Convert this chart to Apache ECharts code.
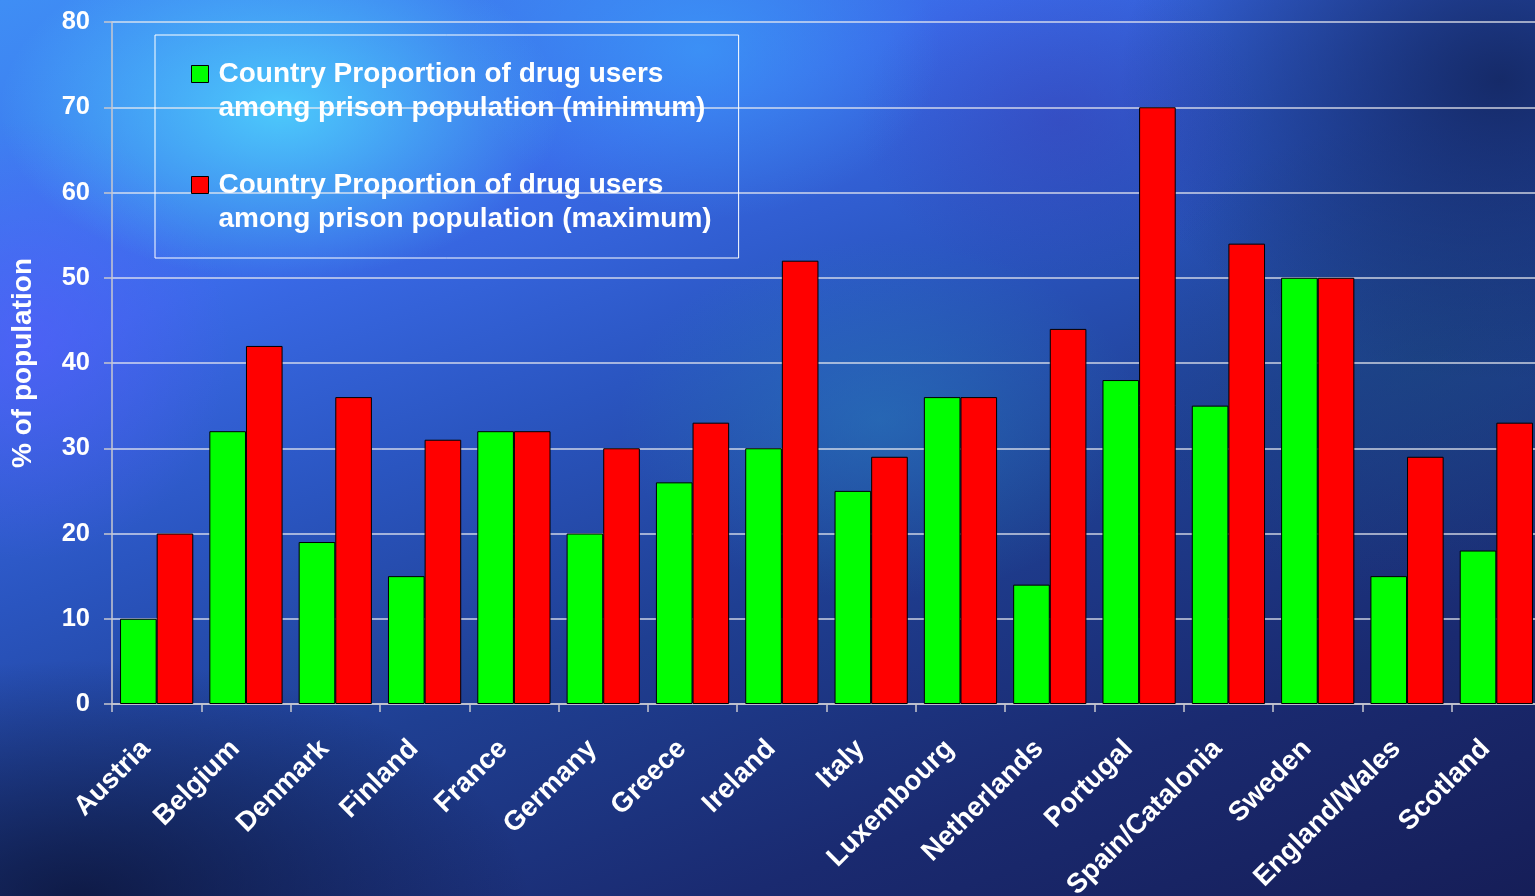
<!DOCTYPE html>
<html>
<head>
<meta charset="utf-8">
<script src="https://cdn.jsdelivr.net/npm/echarts@6/dist/echarts.min.js"></script>
<style>
html,body{margin:0;padding:0;width:1535px;height:896px;overflow:hidden;}
#bg{position:absolute;left:0;top:0;width:1535px;height:896px;
background:
 radial-gradient(ellipse 280px 170px at 280px 110px, rgba(80,220,255,0.8), rgba(80,220,255,0) 100%),
 radial-gradient(ellipse 240px 170px at 700px 50px, rgba(60,170,255,0.55), rgba(60,170,255,0) 100%),
 radial-gradient(ellipse 200px 220px at 30px 340px, rgba(90,90,255,0.55), rgba(90,90,255,0) 100%),
 radial-gradient(ellipse 260px 180px at 880px 420px, rgba(40,130,190,0.5), rgba(40,130,190,0) 100%),
 radial-gradient(ellipse 200px 160px at 1060px 120px, rgba(60,50,170,0.35), rgba(60,50,170,0) 100%),
 radial-gradient(ellipse 380px 300px at 1500px 80px, rgba(18,35,90,0.85), rgba(18,35,90,0) 100%),
 radial-gradient(ellipse 300px 240px at 1420px 360px, rgba(25,70,120,0.5), rgba(25,70,120,0) 100%),
 radial-gradient(ellipse 450px 240px at 80px 900px, rgba(8,12,40,0.7), rgba(8,12,40,0) 100%),
 linear-gradient(160deg, #3f8ef5 0%, #3a6ae8 25%, #2a55c0 42%, #1f3f92 60%, #1a2a70 80%, #161e58 100%);
}
#chart{position:absolute;left:0;top:0;width:1535px;height:896px;}
</style>
</head>
<body>
<div id="bg"></div>
<div id="chart"></div>
<script>
const categories = ['Austria','Belgium','Denmark','Finland','France','Germany','Greece','Ireland','Italy','Luxembourg','Netherlands','Portugal','Spain/Catalonia','Sweden','England/Wales','Scotland'];
const minValues = [10, 32, 19, 15, 32, 20, 26, 30, 25, 36, 14, 38, 35, 50, 15, 18];
const maxValues = [20, 42, 36, 31, 32, 30, 33, 52, 29, 36, 44, 70, 54, 50, 29, 33];
const seriesNames = ['Country Proportion of drug users\namong prison population (minimum)', 'Country Proportion of drug users\namong prison population (maximum)'];
const yTicks = {min: 0, max: 80, interval: 10};

const chart = echarts.init(document.getElementById('chart'), null, {renderer: 'canvas'});
const font = '"Liberation Sans", Arial, sans-serif';
const legendIcon = 'path://M0,0M22,68M0,8.5H17V25.5H0Z';

chart.setOption({
  backgroundColor: 'transparent',
  animation: false,
  textStyle: {fontFamily: font},
  grid: {left: 112, top: 22, width: 1429, bottom: 192, containLabel: false, outerBoundsMode: 'none'},
  legend: {
    orient: 'vertical',
    left: 155, top: 35,
    padding: [21.5, 27, 21.5, 36],
    itemGap: 42,
    itemWidth: 22, itemHeight: 68,
    icon: legendIcon,
    borderColor: '#ffffff', borderWidth: 1,
    itemStyle: {borderColor: '#000', borderWidth: 1},
    textStyle: {color: '#ffffff', fontSize: 28, fontWeight: 'bold', lineHeight: 34, fontFamily: font},
    data: seriesNames
  },
  xAxis: {
    type: 'category',
    data: categories,
    axisLine: {lineStyle: {color: '#c8c8d0', width: 1.5}},
    axisTick: {show: true, length: 8, lineStyle: {color: '#c8c8d0', width: 1.5}},
    axisLabel: {rotate: 45, color: '#ffffff', fontSize: 27.5, fontWeight: 'bold', margin: 30, padding: [0, 15, 0, 0], fontFamily: font, interval: 0}
  },
  yAxis: {
    type: 'value',
    min: yTicks.min, max: yTicks.max, interval: yTicks.interval,
    name: '% of population',
    nameLocation: 'middle',
    nameGap: 75,
    nameTextStyle: {color: '#ffffff', fontSize: 28, fontWeight: 'bold', fontFamily: font},
    axisLine: {show: true, lineStyle: {color: '#c8c8d0', width: 1.5}},
    axisTick: {show: true, length: 8, lineStyle: {color: '#c8c8d0', width: 1.5}},
    axisLabel: {color: '#ffffff', fontSize: 25.5, fontWeight: 'bold', margin: 22, fontFamily: font},
    splitLine: {show: true, lineStyle: {color: 'rgba(235,235,240,0.85)', width: 1.5}}
  },
  series: [
    {name: seriesNames[0], type: 'bar', data: minValues, barGap: '0%', barCategoryGap: '18%',
     itemStyle: {color: '#00ff00', borderColor: '#000000', borderWidth: 1}},
    {name: seriesNames[1], type: 'bar', data: maxValues, barGap: '0%', barCategoryGap: '18%',
     itemStyle: {color: '#ff0000', borderColor: '#000000', borderWidth: 1}}
  ]
});
</script>
</body>
</html>
